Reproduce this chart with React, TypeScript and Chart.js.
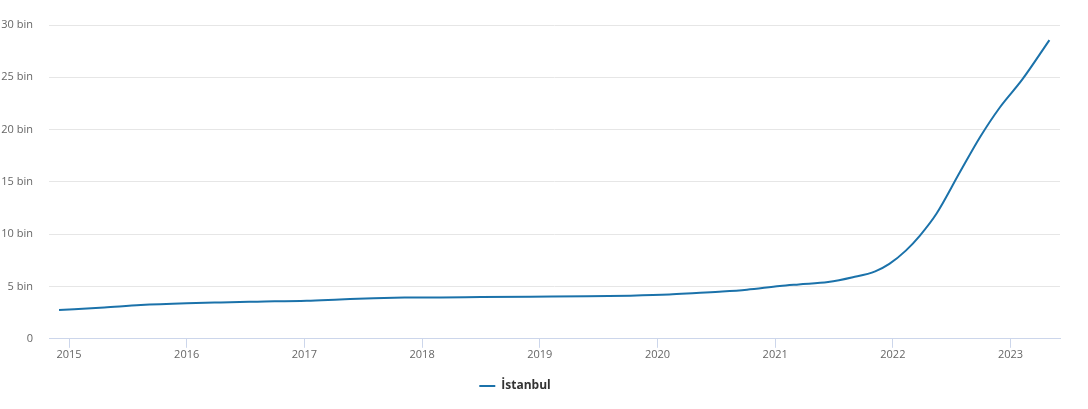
import React, { useEffect, useRef } from "react";
import { Chart, registerables } from "chart.js";

Chart.register(...registerables);

const seriesName = "İstanbul";
const pointYears = [
  2014.915, 2015.3, 2015.61, 2016.0, 2016.29, 2016.6, 2017.02, 2017.3, 2017.59, 2017.85,
  2018.16, 2018.5, 2018.92, 2019.4, 2019.77, 2020.1, 2020.33, 2020.55, 2020.76, 2021.04,
  2021.2, 2021.45, 2021.66, 2021.85, 2021.97, 2022.11, 2022.23, 2022.37, 2022.57, 2022.74,
  2022.91, 2023.1, 2023.33,
];
const pointValues = [
  2750, 3000, 3230, 3400, 3480, 3550, 3640, 3760, 3880, 3940,
  3960, 3990, 4025, 4060, 4120, 4230, 4380, 4520, 4700, 5050,
  5200, 5420, 5880, 6450, 7160, 8430, 9870, 11950, 15940, 19270,
  22140, 24800, 28560,
];
const xTickYears = [2015, 2016, 2017, 2018, 2019, 2020, 2021, 2022, 2023];
const yTickValues = [0, 5000, 10000, 15000, 20000, 25000, 30000];
const yTickLabels = ["0", "5 bin", "10 bin", "15 bin", "20 bin", "25 bin", "30 bin"];

const legendShift = {
  id: "legendShift",
  afterLayout(chart: any) {
    if (chart.legend) {
      chart.legend.left -= 15;
      chart.legend.right -= 15;
    }
  },
};

export default function App() {
  const ref = useRef<HTMLCanvasElement | null>(null);

  useEffect(() => {
    if (!ref.current) return;
    const data = pointYears.map((x, i) => ({ x, y: pointValues[i] }));
    const chart = new Chart(ref.current, {
      type: "line",
      data: {
        datasets: [
          {
            label: seriesName,
            data,
            borderColor: "#1b72aa",
            backgroundColor: "#1b72aa",
            borderWidth: 2,
            pointRadius: 0,
            pointStyle: "line",
            cubicInterpolationMode: "monotone",
            fill: false,
          },
        ],
      },
      plugins: [legendShift],
      options: {
        animation: false,
        responsive: true,
        maintainAspectRatio: false,
        layout: { padding: { top: 25, right: 28, bottom: 7, left: 0 } },
        scales: {
          x: {
            type: "linear",
            min: 2014.83,
            max: 2023.42,
            afterBuildTicks: (scale: any) => {
              scale.ticks = xTickYears.map((v) => ({ value: v }));
            },
            border: { display: true, color: "#ccd6eb", width: 1 },
            grid: {
              display: true,
              drawOnChartArea: false,
              drawTicks: true,
              tickLength: 9,
              color: "#ccd6eb",
            },
            ticks: {
              padding: 0,
              color: "#666666",
              font: { family: "'Open Sans', sans-serif", size: 11 },
              maxRotation: 0,
              callback: (v: any) => String(v),
            },
          },
          y: {
            min: 0,
            max: 30000,
            afterFit: (scale: any) => {
              scale.width = 49;
            },
            afterBuildTicks: (scale: any) => {
              scale.ticks = yTickValues.map((v) => ({ value: v }));
            },
            border: { display: false },
            grid: { color: "#e6e6e6", drawTicks: false },
            ticks: {
              padding: 16,
              color: "#666666",
              font: { family: "'Open Sans', sans-serif", size: 11 },
              callback: (v: any) => {
                const i = yTickValues.indexOf(Number(v));
                return i >= 0 ? yTickLabels[i] : "";
              },
            },
          },
        },
        plugins: {
          tooltip: { enabled: false },
          legend: {
            display: true,
            position: "bottom",
            labels: {
              usePointStyle: true,
              pointStyleWidth: 16,
              padding: 19,
              color: "#333333",
              font: { family: "'Open Sans', sans-serif", size: 12, weight: "bold" },
            },
          },
        },
      },
    });
    return () => chart.destroy();
  }, []);

  return (
    <div style={{ position: "fixed", left: 0, top: 0, width: 1088, height: 409, background: "#fff" }}>
      <canvas ref={ref} />
    </div>
  );
}
